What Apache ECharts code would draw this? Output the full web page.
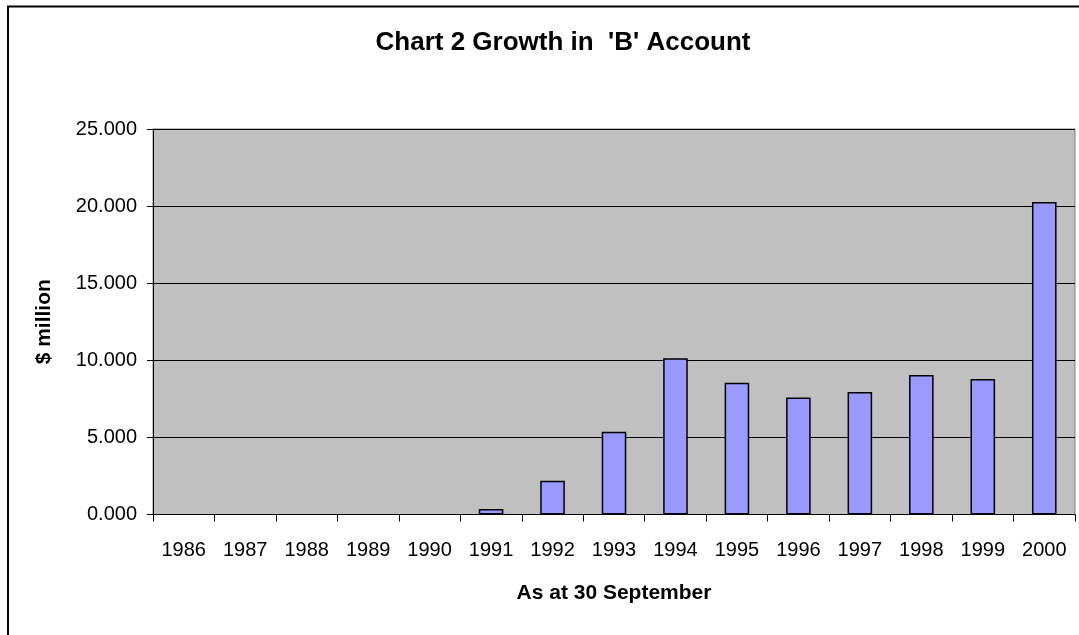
<!DOCTYPE html>
<html>
<head>
<meta charset="utf-8">
<script src="https://cdn.jsdelivr.net/npm/echarts@6/dist/echarts.min.js"></script>
<style>
html,body{margin:0;padding:0;background:#fff;}
#chart{width:1079px;height:635px;}
</style>
</head>
<body>
<div id="chart"></div>
<script>
const years = ['1986','1987','1988','1989','1990','1991','1992','1993','1994','1995','1996','1997','1998','1999','2000'];
const values = [0, 0, 0, 0, 0, 0.35, 2.19, 5.37, 10.13, 8.55, 7.58, 7.94, 9.05, 8.79, 20.26];
const yTicks = [0, 5, 10, 15, 20, 25];
const titleText = "Chart 2 Growth in  'B' Account";
const xName = 'As at 30 September';
const yName = '$ million';

const chart = echarts.init(document.getElementById('chart'), null, {renderer: 'canvas'});
const FONT = '"Liberation Sans", Arial, sans-serif';
const barData = values.map(v => v === 0 ? {value: v, itemStyle: {borderWidth: 0}} : v);
chart.setOption({
  backgroundColor: '#ffffff',
  animation: false,
  title: {
    text: titleText,
    left: 558, top: 25, textAlign: 'center',
    textStyle: {fontFamily: FONT, fontSize: 26, fontWeight: 'bold', color: '#000'}
  },
  graphic: [{
    type: 'rect', silent: true, z: 100,
    shape: {x: 8, y: 6.5, width: 1200, height: 800},
    style: {fill: 'none', stroke: '#000', lineWidth: 2}
  }],
  grid: {
    left: 153, right: 4, top: 129, bottom: 120.5,
    show: true, backgroundColor: '#c0c0c0', borderColor: '#808080', borderWidth: 1
  },
  xAxis: {
    type: 'category', data: years,
    name: xName, nameLocation: 'middle', nameGap: 68,
    nameTextStyle: {fontFamily: FONT, fontSize: 21, fontWeight: 'bold', color: '#000'},
    axisLine: {lineStyle: {color: '#000', width: 1}},
    axisTick: {show: true, length: 7, alignWithLabel: false, lineStyle: {color: '#000'}},
    axisLabel: {fontFamily: FONT, fontSize: 20, color: '#000', margin: 26, interval: 0},
    splitLine: {show: false}
  },
  yAxis: {
    type: 'value', min: 0, max: 25, interval: 5,
    name: yName, nameLocation: 'middle', nameGap: 98, nameRotate: 90,
    nameTextStyle: {fontFamily: FONT, fontSize: 21, fontWeight: 'bold', color: '#000'},
    axisLine: {show: true, lineStyle: {color: '#000', width: 1}},
    axisTick: {show: true, length: 6, lineStyle: {color: '#000'}},
    axisLabel: {
      fontFamily: FONT, fontSize: 20, color: '#000', margin: 16,
      formatter: v => yTicks.includes(v) ? v.toFixed(3) : ''
    },
    splitLine: {show: true, lineStyle: {color: '#000', width: 1}}
  },
  series: [{
    type: 'bar', data: barData,
    barCategoryGap: '60%',
    itemStyle: {color: '#9999ff', borderColor: '#000', borderWidth: 1.5}
  }]
});
</script>
</body>
</html>
